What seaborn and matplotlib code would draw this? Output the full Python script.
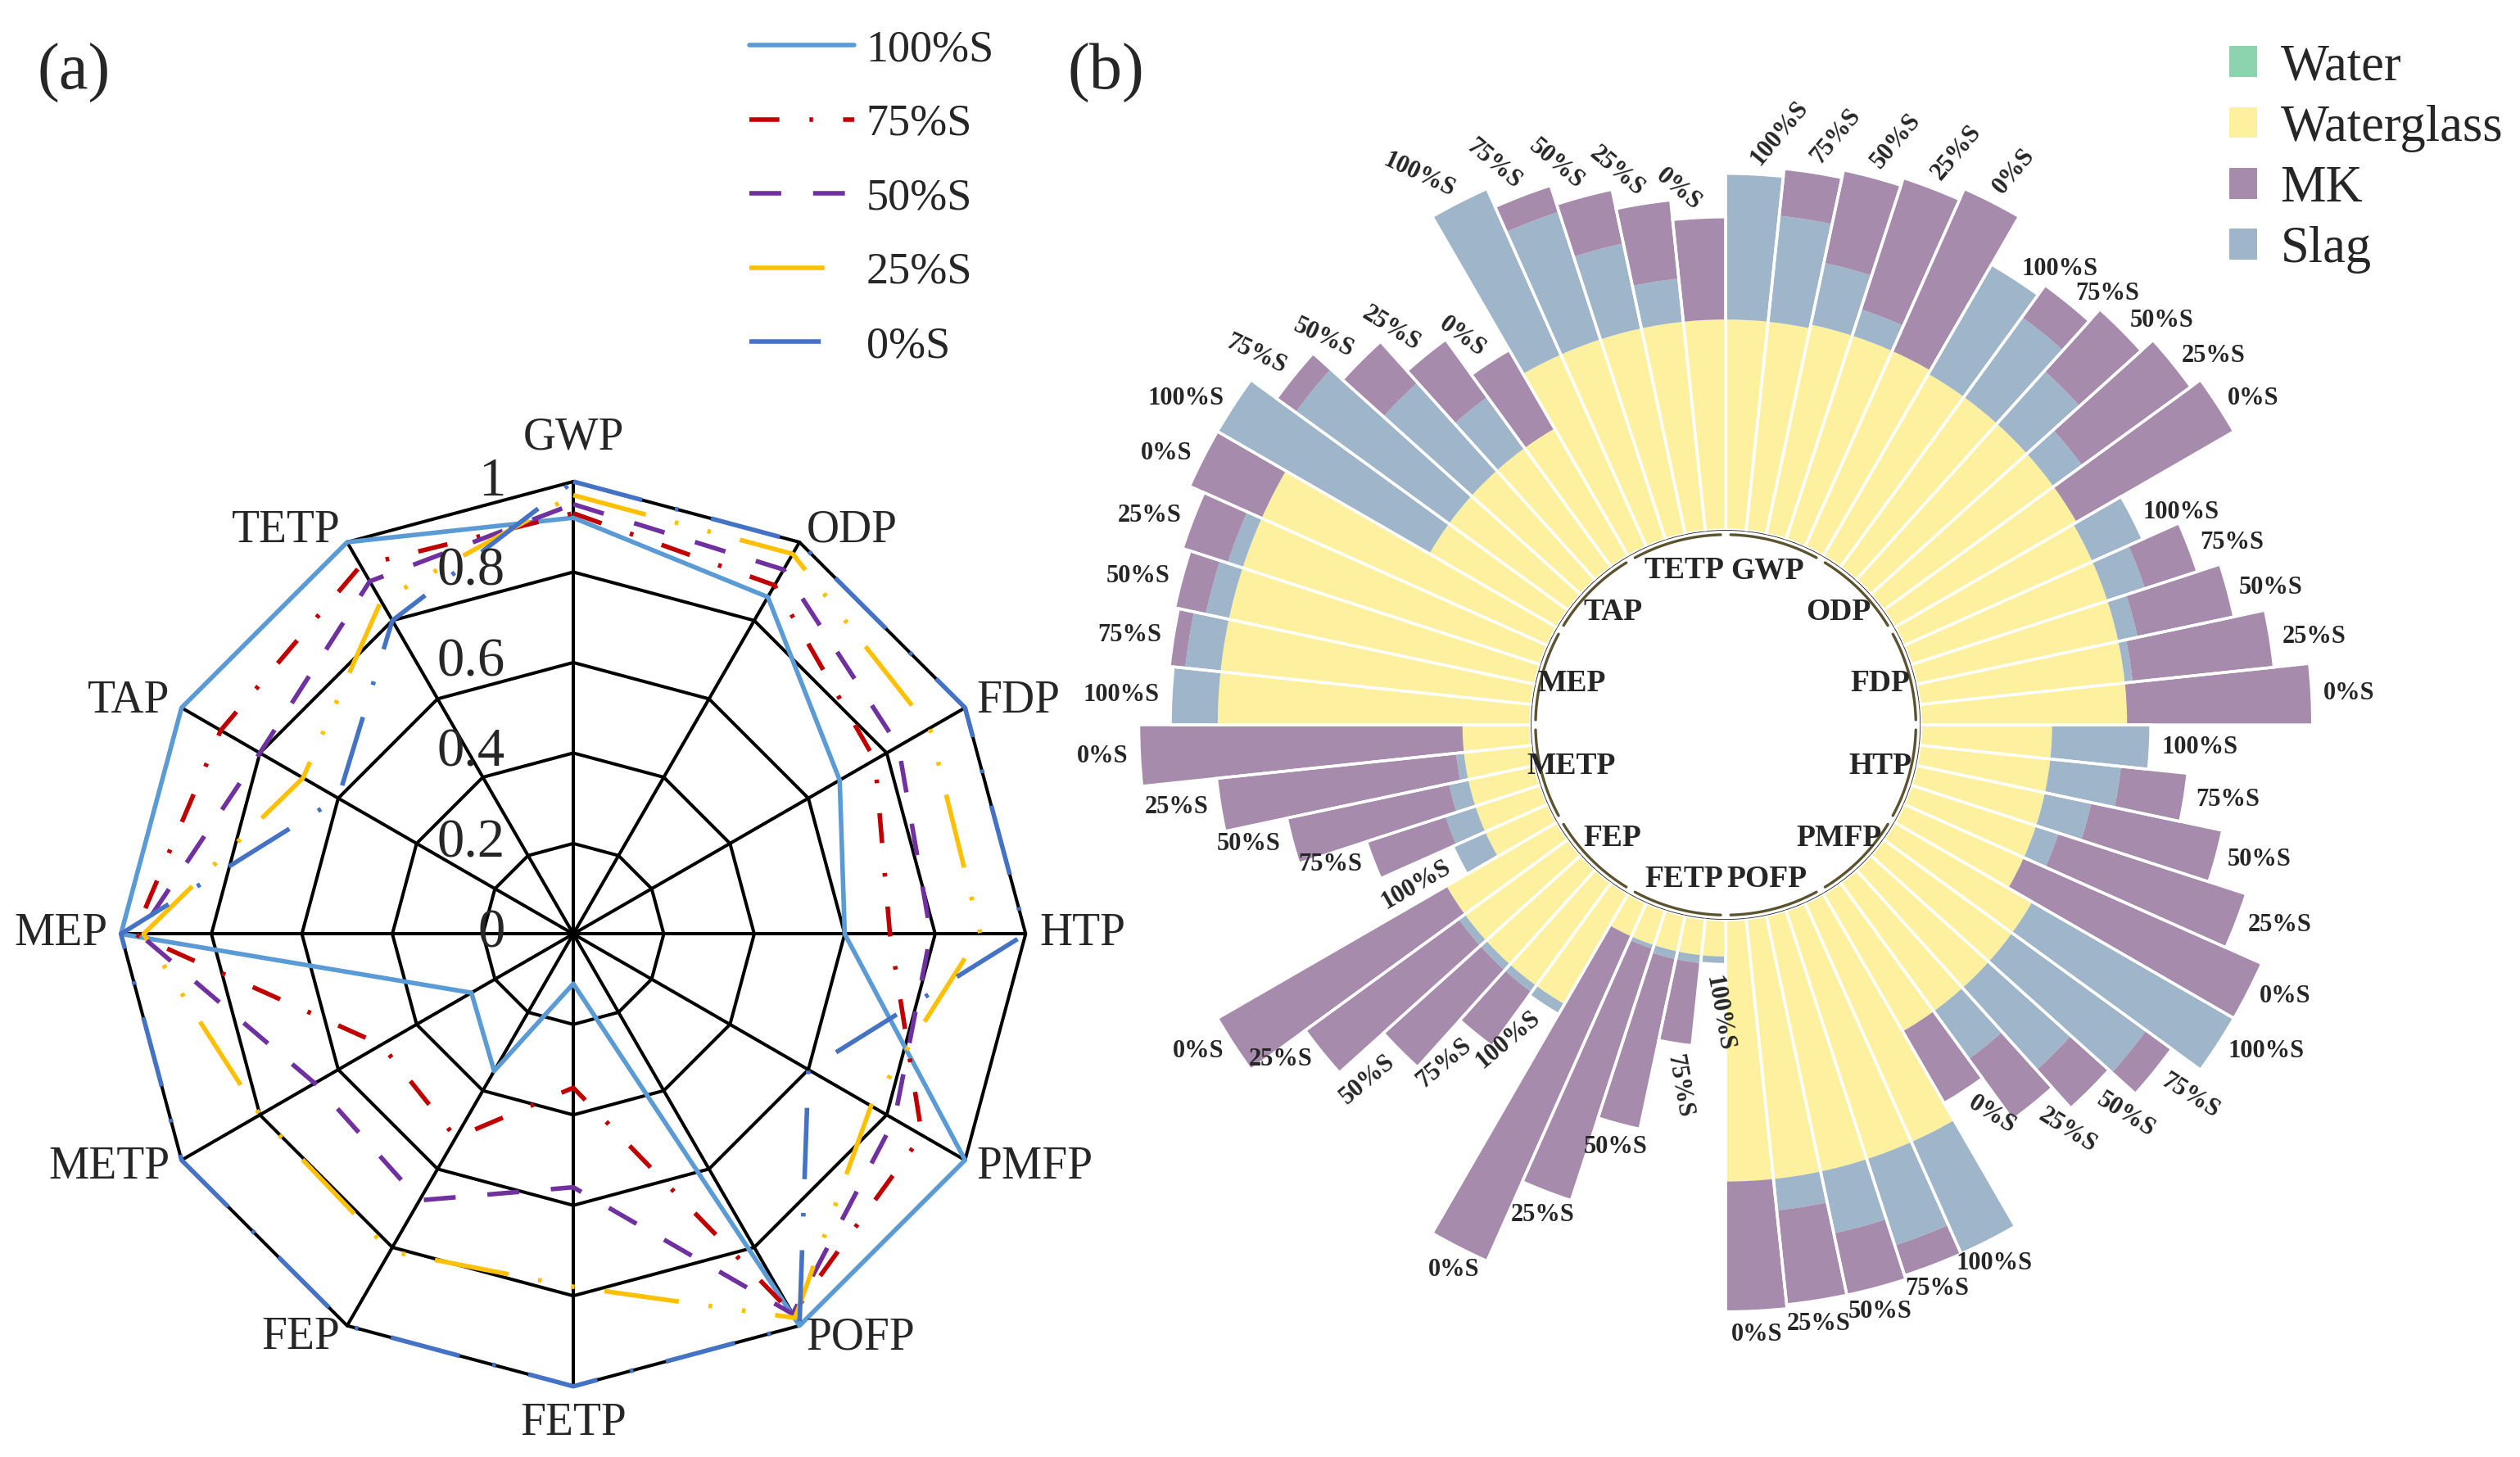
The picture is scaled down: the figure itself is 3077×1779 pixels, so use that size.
import numpy as np
import pandas as pd
import matplotlib
matplotlib.use("Agg")
import matplotlib.pyplot as plt
import seaborn as sns
from matplotlib.lines import Line2D
from matplotlib.patches import Patch
from matplotlib.transforms import ScaledTranslation

# ---------------- data ----------------
indicators = ["GWP", "ODP", "FDP", "HTP", "PMFP", "POFP",
              "FETP", "FEP", "METP", "MEP", "TAP", "TETP"]
mixes = ["100%S", "75%S", "50%S", "25%S", "0%S"]

# (a) normalised impact, one value per indicator
radar_100 = [0.92, 0.86, 0.68, 0.60, 1.00, 1.00, 0.11, 0.35, 0.26, 1.00, 1.00, 1.00]
radar_75 = [0.93, 0.89, 0.77, 0.70, 0.89, 0.97, 0.34, 0.52, 0.49, 0.97, 0.90, 0.94]
radar_50 = [0.95, 0.93, 0.83, 0.79, 0.82, 0.97, 0.56, 0.68, 0.66, 0.96, 0.80, 0.90]
radar_25 = [0.97, 0.97, 0.91, 0.90, 0.76, 0.98, 0.78, 0.81, 0.80, 0.95, 0.69, 0.85]
radar_0 = [1.00, 1.00, 1.00, 1.00, 0.60, 1.00, 1.00, 1.00, 1.00, 1.00, 0.60, 0.80]
tick_levels = [0, 0.2, 0.4, 0.6, 0.8, 1.0]
tick_labels = ["0", "0.2", "0.4", "0.6", "0.8", "1"]

# (b) contribution of each material, rows = indicators, cols = mixes
water = [[0.003] * 5 for _ in range(12)]
waterglass = [
    [0.53, 0.53, 0.54, 0.54, 0.54],  # GWP
    [0.53, 0.53, 0.53, 0.53, 0.53],  # ODP
    [0.52, 0.52, 0.52, 0.52, 0.52],  # FDP
    [0.33, 0.33, 0.33, 0.33, 0.33],  # HTP
    [0.40, 0.40, 0.40, 0.40, 0.40],  # PMFP
    [0.66, 0.66, 0.66, 0.66, 0.66],  # POFP
    [0.09, 0.09, 0.09, 0.09, 0.09],  # FETP
    [0.32, 0.32, 0.32, 0.32, 0.32],  # FEP
    [0.17, 0.17, 0.17, 0.17, 0.17],  # METP
    [0.79, 0.79, 0.79, 0.79, 0.79],  # MEP
    [0.37, 0.37, 0.37, 0.37, 0.37],  # TAP
    [0.53, 0.53, 0.53, 0.53, 0.53],  # TETP
]
slag = [
    [0.37, 0.27, 0.16, 0.07, 0.00],
    [0.32, 0.25, 0.18, 0.09, 0.00],
    [0.14, 0.10, 0.05, 0.02, 0.00],
    [0.25, 0.18, 0.12, 0.06, 0.00],
    [0.59, 0.42, 0.28, 0.15, 0.00],
    [0.31, 0.23, 0.16, 0.08, 0.00],
    [0.02, 0.02, 0.02, 0.01, 0.00],
    [0.03, 0.02, 0.02, 0.02, 0.00],
    [0.09, 0.08, 0.05, 0.02, 0.00],
    [0.12, 0.09, 0.06, 0.04, 0.00],
    [0.62, 0.48, 0.30, 0.16, 0.00],
    [0.46, 0.34, 0.22, 0.11, 0.00],
]
mk = [
    [0.00, 0.12, 0.24, 0.35, 0.45],
    [0.00, 0.10, 0.21, 0.34, 0.46],
    [0.00, 0.14, 0.25, 0.36, 0.47],
    [0.00, 0.17, 0.34, 0.50, 0.66],
    [0.00, 0.08, 0.13, 0.19, 0.21],
    [0.00, 0.08, 0.16, 0.24, 0.33],
    [0.00, 0.21, 0.44, 0.67, 0.90],
    [0.00, 0.17, 0.33, 0.48, 0.67],
    [0.00, 0.21, 0.42, 0.61, 0.82],
    [0.00, 0.04, 0.08, 0.12, 0.20],
    [0.00, 0.06, 0.14, 0.18, 0.23],
    [0.00, 0.07, 0.14, 0.20, 0.26],
]
# rotation of the little mix labels around the bars (degrees)
label_rot = [
    [50, 50, 50, 50, 50],
    [0, 0, 0, 0, 0],
    [0, 0, 0, 0, 0],
    [0, 0, 0, 0, 0],
    [0, -32, -32, -32, -32],
    [0, 0, 0, 0, 0],
    [-80, -80, 0, 0, 0],
    [40, 40, 40, 0, 0],
    [30, 0, 0, 0, 0],
    [0, 0, 0, 0, 0],
    [0, -25, -25, -32, -36],
    [-25, -40, -40, -40, -40],
]

line_colors = ["#5B9BD5", "#C00000", "#7030A0", "#FFC000", "#4472C4"]
line_styles = ["-", (0, (6.6, 6.6, 0.8, 6.6)), (0, (7, 7)),
               (0, (16.5, 6.6, 0.8, 6.6, 0.8, 6.6)), (0, (15.7, 7.4, 0.8, 7.4))]
comp_names = ["Water", "Waterglass", "MK", "Slag"]
comp_colors = {"Water": "#8CD3B0", "Waterglass": "#FDF1A0",
               "MK": "#A68BAC", "Slag": "#9EB5CA"}

sns.set_theme(style="white")
plt.rcParams["font.family"] = ["Liberation Serif", "DejaVu Serif"]

fig = plt.figure(figsize=(30.77, 17.79), dpi=100)

# ---------------- (a) radar ----------------
axa = fig.add_axes([0.039, 0.033, 0.377, 0.652], projection="polar")
axa.set_theta_zero_location("N")
axa.set_theta_direction(-1)
axa.set_ylim(0, 1.05)
axa.patch.set_alpha(0)
n = len(indicators)
ang = np.arange(n) * 2 * np.pi / n
ang_c = np.append(ang, 2 * np.pi)

for lv in tick_levels[1:]:
    axa.plot(ang_c, [lv] * (n + 1), color="black", lw=2.9, zorder=1, clip_on=False)
for a in ang:
    axa.plot([a, a], [0, 1], color="black", lw=2.9, zorder=1)

series = [radar_100, radar_75, radar_50, radar_25, radar_0]
for name, vals, col, ls in zip(mixes, series, line_colors, line_styles):
    df = pd.DataFrame({"theta": ang_c, "value": list(vals) + [vals[0]]})
    sns.lineplot(data=df, x="theta", y="value", ax=axa, color=col, lw=4.0,
                 linestyle=ls, sort=False, estimator=None, zorder=3, clip_on=False)

axa.set_xlabel("")
axa.set_ylabel("")
axa.set_xticks([])
axa.set_yticks([])
axa.grid(False)
axa.spines["polar"].set_visible(False)

offs = ScaledTranslation(-0.83, 0, fig.dpi_scale_trans)
for lv, lab in zip(tick_levels, tick_labels):
    axa.text(0, lv, lab, transform=axa.transData + offs, ha="right",
             va="center", fontsize=48, zorder=4)

for a, name in zip(ang, indicators):
    s = np.sin(a)
    if abs(s) < 0.1:
        ha = "center"
        va = "bottom" if np.cos(a) > 0 else "top"
        r = 1.05 if np.cos(a) > 0 else 1.035
    else:
        ha = "left" if s > 0 else "right"
        va = "center"
        r = 1.03
    axa.text(a, r, name, ha=ha, va=va, fontsize=40)

leg_a = [Line2D([0], [0], color=c, lw=4.0, linestyle=ls)
         for c, ls in zip(line_colors, line_styles)]
fig.legend(leg_a, mixes, loc="upper left", bbox_to_anchor=(0.2974, 0.980),
           frameon=False, fontsize=39, handlelength=2.37, handletextpad=0.26,
           labelspacing=0.74, borderpad=0, borderaxespad=0)

# ---------------- (b) circular stacked bars ----------------
axb = fig.add_axes([0.4378, 0.0753, 0.494, 0.8544], projection="polar")
axb.set_theta_zero_location("N")
axb.set_theta_direction(-1)
axb.set_rorigin(-0.4938)
axb.set_ylim(0, 1.083)
axb.patch.set_alpha(0)

nb = n * len(mixes)
theta = np.deg2rad(6 * np.arange(nb) + 3)
width = np.deg2rad(6)
stack = {"Water": np.ravel(water), "Waterglass": np.ravel(waterglass),
         "Slag": np.ravel(slag), "MK": np.ravel(mk)}
bottom = np.zeros(nb)
for comp in ["Water", "Waterglass", "Slag", "MK"]:
    axb.bar(theta, stack[comp], width=width, bottom=bottom,
            color=comp_colors[comp], edgecolor="none", linewidth=0, zorder=2)
    bottom = bottom + stack[comp]
axb.bar(theta, bottom, width=width, bottom=0, facecolor="none",
        edgecolor="white", linewidth=2.5, zorder=3)

for g in range(n):
    th = np.deg2rad(np.linspace(30 * g + 1.5, 30 * g + 28.5, 40))
    axb.plot(th, np.full(th.size, -0.012), color="#5B5230", lw=2.4,
             clip_on=False, zorder=3)
    axb.text(np.deg2rad(30 * g + 15), -0.089, indicators[g], ha="center",
             va="center", fontsize=27, fontweight="bold")

rots = np.ravel(label_rot)
for i in range(nb):
    t = theta[i]
    rot = rots[i]
    u = np.array([np.sin(t), np.cos(t)])
    d = np.array([np.cos(np.deg2rad(rot)), np.sin(np.deg2rad(rot))])
    nv = np.array([-d[1], d[0]])
    a_, b_ = d @ u, nv @ u
    ha = "left" if a_ > 0.5 else ("right" if a_ < -0.5 else "center")
    va = "bottom" if b_ > 0.85 else ("top" if b_ < -0.85 else "center")
    axb.text(t, bottom[i] + 0.03, mixes[i % 5], rotation=rot,
             rotation_mode="anchor", ha=ha, va=va, fontsize=22,
             fontweight="bold", zorder=4)

axb.set_xticks([])
axb.set_yticks([])
axb.grid(False)
axb.spines["polar"].set_visible(False)

leg_b = [Patch(facecolor=comp_colors[c], edgecolor="none") for c in comp_names]
fig.legend(leg_b, comp_names, loc="upper left", bbox_to_anchor=(0.8846, 0.970),
           frameon=False, fontsize=45, handlelength=0.55, handleheight=0.55,
           handletextpad=0.45, labelspacing=0.26, borderpad=0, borderaxespad=0)

fig.text(0.0293, 0.950, "(a)", ha="center", va="center", fontsize=58)
fig.text(0.439, 0.950, "(b)", ha="center", va="center", fontsize=58)

fig.savefig("out.png", dpi=100, facecolor="white")
